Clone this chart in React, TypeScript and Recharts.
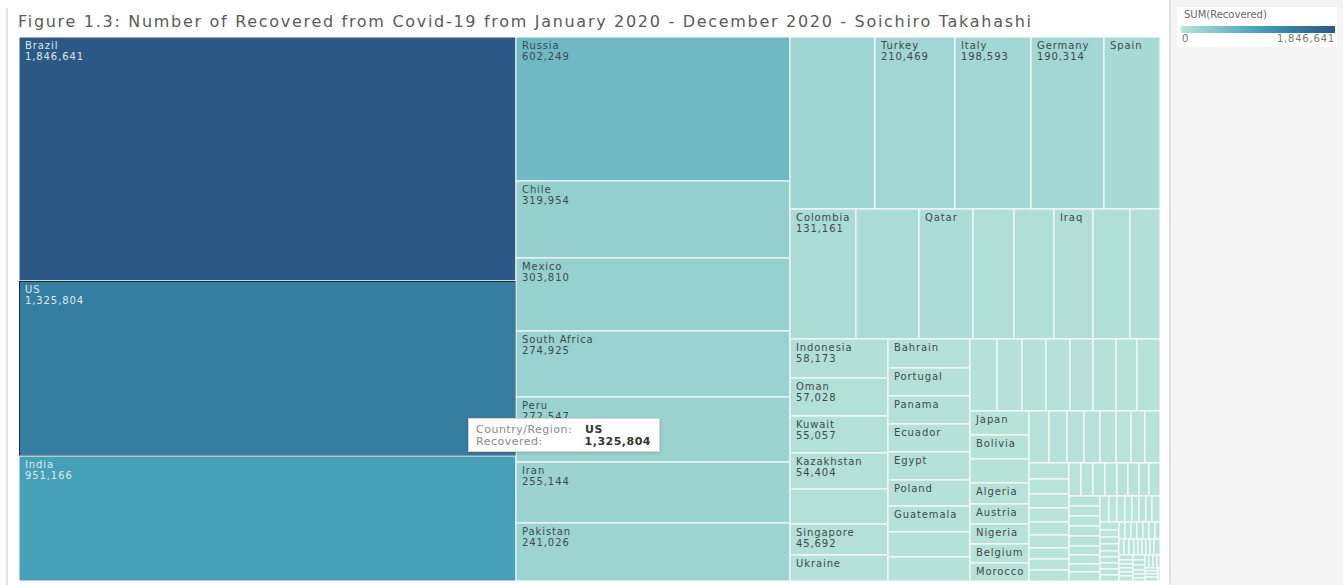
import React from 'react';
import { Treemap } from 'recharts';

// Recovered cases by country, sorted largest first (Tableau orders the treemap by size)
const countries = [
  'Brazil', 'US', 'India', 'Russia', 'Chile', 'Mexico', 'South Africa', 'Peru', 'Iran', 'Pakistan',
  'Saudi Arabia', 'Turkey', 'Italy', 'Germany', 'Spain', 'Colombia', 'Bangladesh', 'Qatar', 'France', 'China',
  'Iraq', 'Argentina', 'Belarus', 'Indonesia', 'Oman', 'Kuwait', 'Kazakhstan', 'United Arab Emirates', 'Singapore', 'Ukraine',
  'Bahrain', 'Portugal', 'Panama', 'Ecuador', 'Egypt', 'Poland', 'Guatemala', 'Switzerland', 'Dominican Republic', 'Ghana',
  'Israel', 'Armenia', 'Philippines', 'Romania', 'Afghanistan', 'Ireland', 'Azerbaijan', 'Japan', 'Bolivia', 'Kyrgyzstan',
  'Algeria', 'Austria', 'Nigeria', 'Belgium', 'Morocco', 'Moldova', 'Cameroon', 'Nepal', 'South Korea', 'Denmark',
  'Uzbekistan', 'Czechia', "Cote d'Ivoire", 'Venezuela', 'Australia', 'Norway', 'Malaysia', 'Kenya', 'El Salvador', 'Finland',
  'Senegal', 'Ethiopia', 'Madagascar', 'Guinea', 'Tajikistan', 'Sudan', 'Bulgaria', 'North Macedonia', 'Honduras', 'Djibouti',
  'Bosnia and Herzegovina', 'Luxembourg', 'Gabon', 'Mauritania', 'Congo (Kinshasa)', 'Haiti', 'Kosovo', 'Croatia', 'Costa Rica', 'West Bank and Gaza',
  'Hungary', 'Thailand', 'Paraguay', 'Zambia', 'Albania', 'Maldives', 'Nicaragua', 'Cuba', 'Sri Lanka', 'Estonia',
  'Mali', 'Iceland', 'Slovenia', 'Lebanon', 'Malawi', 'Lithuania', 'Slovakia', 'Cabo Verde', 'Central African Republic', 'Somalia',
  'New Zealand', 'United Kingdom', 'Greece', 'Sierra Leone', 'South Sudan', 'Tunisia', 'Latvia', 'Jordan', 'Benin', 'Niger',
  'Eswatini', 'Uganda', 'Rwanda', 'Uruguay', 'Burkina Faso', 'Suriname', 'Georgia', 'Cyprus', 'Equatorial Guinea', 'Yemen',
  'Congo (Brazzaville)', 'Chad', 'Montenegro', 'Andorra', 'Guinea-Bissau', 'Sao Tome and Principe', 'Jamaica', 'Malta', 'San Marino', 'Liberia',
  'Togo', 'Libya', 'Mozambique', 'Zimbabwe', 'Taiwan*', 'Vietnam', 'Mauritius', 'Comoros', 'Burundi', 'Burma',
  'Angola', 'Mongolia', 'Eritrea', 'Netherlands', 'Tanzania', 'Guyana', 'Cambodia', 'Brunei', 'Lesotho', 'Trinidad and Tobago',
  'Monaco', 'Namibia', 'Barbados', 'Bahamas', 'Bhutan', 'Liechtenstein', 'Gambia', 'Antigua and Barbuda', 'Botswana', 'Saint Vincent and the Grenadines',
  'Seychelles', 'Belize', 'Grenada', 'Saint Lucia', 'Laos', 'Dominica', 'Fiji', 'Saint Kitts and Nevis', 'Greenland', 'Holy See',
  'Papua New Guinea', 'Western Sahara',
];

const recovered = [
  1846641, 1325804, 951166, 602249, 319954, 303810, 274925, 272547, 255144, 241026,
  222936, 210469, 198593, 190314, 150376, 131161, 125683, 106328, 81212, 78869,
  77144, 72575, 60492, 58173, 57028, 55057, 54404, 52510, 45692, 37202,
  36110, 35375, 35086, 34896, 34838, 32856, 32455, 30900, 30204, 29801,
  27133, 26665, 26446, 25794, 25198, 23364, 23242, 21970, 21478, 21205,
  18837, 18246, 18203, 17452, 16553, 16154, 14539, 13754, 13007, 12605,
  11674, 11428, 10361, 9959, 9311, 8752, 8601, 7833, 7778, 6920,
  6477, 6386, 6260, 6257, 6028, 5939, 5585, 5564, 5039, 4977,
  4930, 4825, 4682, 4653, 4528, 4365, 4027, 3936, 3824, 3752,
  3329, 3111, 2905, 2815, 2745, 2547, 2492, 2351, 2121, 1923,
  1913, 1823, 1733, 1709, 1645, 1620, 1616, 1550, 1546, 1543,
  1514, 1437, 1374, 1317, 1175, 1157, 1045, 1041, 1036, 1027,
  1025, 986, 975, 951, 926, 925, 922, 852, 842, 833,
  829, 810, 809, 803, 803, 734, 714, 665, 656, 646,
  607, 577, 574, 542, 440, 365, 332, 328, 301, 292,
  242, 222, 191, 189, 183, 181, 147, 138, 128, 128,
  104, 101, 94, 91, 86, 81, 66, 65, 63, 39,
  39, 26, 23, 22, 19, 18, 18, 15, 13, 12,
  11, 8,
];

const highlighted = 'US';

const data = countries.map((name, i) => ({ name, value: recovered[i] }));
const maxValue = Math.max(...recovered);

const FONT = '"DejaVu Sans", sans-serif';

// Tableau "Blue-Teal" sequential palette, approximated
const STOPS: [number, [number, number, number]][] = [
  [0, [186, 227, 217]],
  [0.15, [153, 210, 208]],
  [0.33, [111, 184, 196]],
  [0.52, [69, 159, 184]],
  [0.72, [54, 126, 161]],
  [1, [43, 88, 133]],
];

function colorFor(v: number) {
  const t = v / maxValue;
  for (let i = 1; i < STOPS.length; i++) {
    const [t1, c1] = STOPS[i];
    const [t0, c0] = STOPS[i - 1];
    if (t <= t1) {
      const f = (t - t0) / (t1 - t0);
      const c = c0.map((a, k) => Math.round(a + (c1[k] - a) * f));
      return `rgb(${c.join(',')})`;
    }
  }
  return 'rgb(43,88,133)';
}

const textWidth = (s: string) => s.length * 6.6;

function Cell(props: any) {
  const { x, y, width, height, depth, name, value } = props;
  if (depth !== 1) return <g />;
  const dark = value / maxValue > 0.45;
  const label = dark ? '#dce9f0' : '#3d4a4c';
  const valueText = Number(value).toLocaleString('en-US');
  const showName = width - 10 >= textWidth(name) && height >= 17;
  const showValue = showName && height >= 30 && width - 10 >= textWidth(valueText);
  return (
    <g>
      <rect x={x} y={y} width={width} height={height} fill={colorFor(value)} stroke="#fff" strokeWidth={1} />
      {name === highlighted && (
        <rect x={x + 0.5} y={y + 0.5} width={width - 1} height={height - 1} fill="none" stroke="#1f2b33" strokeWidth={1} />
      )}
      {showName && (
        <text x={x + 6} y={y + 12} fill={label} fontSize={10} letterSpacing={0.9} fontFamily={FONT}>
          {name}
        </text>
      )}
      {showValue && (
        <text x={x + 6} y={y + 23} fill={label} fontSize={10} letterSpacing={0.9} fontFamily={FONT}>
          {valueText}
        </text>
      )}
    </g>
  );
}

export default function App() {
  return (
    <div style={{ position: 'absolute', left: 0, top: 0, width: 1343, height: 585, background: '#fff', overflow: 'hidden', fontFamily: FONT }}>
      <div style={{ position: 'absolute', left: 6, top: 8, width: 2, height: 577, background: '#e4e4e4' }} />
      <div
        style={{
          position: 'absolute', left: 18, top: 12, fontFamily: FONT,
          fontSize: 16, letterSpacing: 1.7, color: '#5a5a5a', whiteSpace: 'nowrap',
        }}
      >
        Figure 1.3: Number of Recovered from Covid-19 from January 2020 - December 2020 - Soichiro Takahashi
      </div>

      <div style={{ position: 'absolute', left: 19, top: 37 }}>
        <Treemap
          width={1141}
          height={544}
          data={data}
          dataKey="value"
          nameKey="name"
          aspectRatio={3}
          isAnimationActive={false}
          content={<Cell />}
        />
      </div>

      {/* hover tooltip as captured in the original */}
      <div
        style={{
          position: 'absolute', left: 468, top: 418, width: 190, height: 32, background: '#fff',
          border: '1px solid #d6d6d6', boxShadow: '0 1px 3px rgba(0,0,0,0.18)', fontSize: 11, letterSpacing: 0.5,
        }}
      >
        <div style={{ position: 'absolute', left: 7, top: 4, color: '#8a8a8a' }}>Country/Region:</div>
        <div style={{ position: 'absolute', left: 116, top: 4, color: '#333', fontWeight: 700 }}>US</div>
        <div style={{ position: 'absolute', left: 7, top: 16, color: '#8a8a8a' }}>Recovered:</div>
        <div style={{ position: 'absolute', right: 8, top: 16, color: '#333', fontWeight: 700 }}>1,325,804</div>
      </div>

      {/* legend panel */}
      <div style={{ position: 'absolute', left: 1169, top: 0, width: 174, height: 585, background: '#f4f4f4', borderLeft: '2px solid #e2e2e2' }}>
        <div style={{ position: 'absolute', left: 6, top: 7, width: 160, height: 40, background: '#fff' }}>
          <div style={{ position: 'absolute', left: 7, top: 2, fontSize: 10, color: '#666' }}>SUM(Recovered)</div>
          <div
            style={{
              position: 'absolute', left: 4, top: 19, width: 154, height: 7,
              background: 'linear-gradient(to right, rgb(186,227,217), rgb(111,184,196) 33%, rgb(69,159,184) 52%, rgb(54,126,161) 72%, rgb(43,88,133))',
            }}
          />
          <div style={{ position: 'absolute', left: 5, top: 26, fontSize: 10, color: '#777', letterSpacing: 0.8 }}>0</div>
          <div style={{ position: 'absolute', right: 2, top: 26, fontSize: 10, color: '#777', letterSpacing: 0.8 }}>1,846,641</div>
        </div>
      </div>
    </div>
  );
}
